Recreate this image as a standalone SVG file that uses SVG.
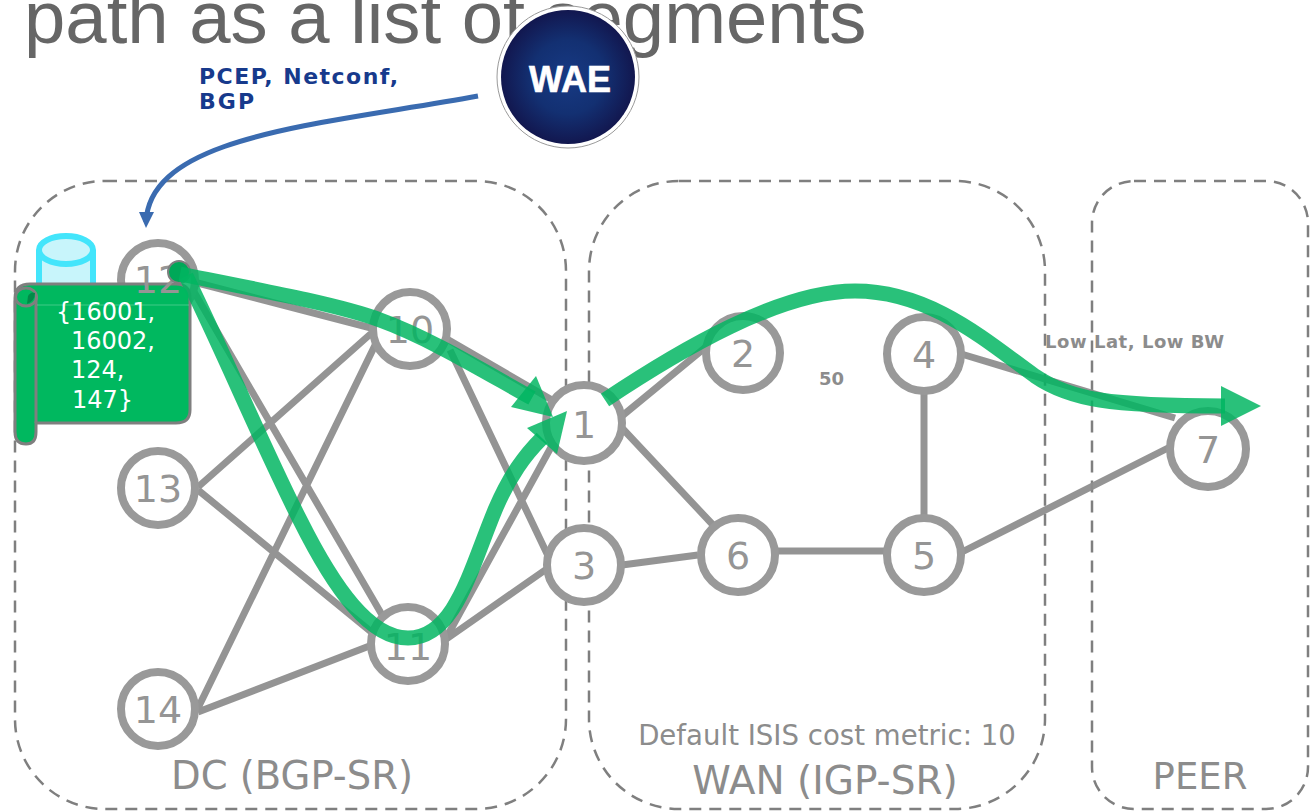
<svg xmlns="http://www.w3.org/2000/svg" width="1314" height="812" viewBox="0 0 1314 812">
<style>
.t{font-family:"DejaVu Sans",Verdana,sans-serif}
.region{fill:none;stroke:#7f7f7f;stroke-width:2.5;stroke-dasharray:12 8}
.node{fill:#fff;stroke:#999;stroke-width:8}
.nl{font-family:"DejaVu Sans",sans-serif;font-size:38px;fill:#959595;text-anchor:middle}
.rl{font-family:"DejaVu Sans",sans-serif;fill:#8c8c8c;text-anchor:middle}
.e{stroke:#8e8e8e;stroke-width:7;fill:none;opacity:.95}
.g{fill:none;stroke:#00b560;stroke-opacity:.84;stroke-width:15}
.h{fill:#00b560;fill-opacity:.84}
.sm{font-family:"DejaVu Sans",sans-serif;font-size:18px;font-weight:bold;fill:#8c8c8c}
.sc{font-family:"DejaVu Sans",sans-serif;font-size:24px;fill:#fff}
</style>
<defs>
<radialGradient id="wg" cx="50%" cy="50%" r="50%"><stop offset="0" stop-color="#173a84"/><stop offset=".55" stop-color="#133072"/><stop offset="1" stop-color="#12174f"/></radialGradient>
</defs>
<text x="24" y="43" font-family="Liberation Sans, Arial, sans-serif" font-size="74.300" fill="#666">path as a list of segments</text>
<g id="regions">
<rect id="region-dc" class="region" x="15" y="181" width="551" height="628" rx="90"/>
<rect id="region-wan" class="region" x="589" y="181" width="456" height="628" rx="90"/>
<rect id="region-peer" class="region" x="1092" y="181" width="216" height="628" rx="42"/>
</g>
<g id="connectors">
<path class="e" d="M190,281L375,329M190,285L385,620M198,487L375,330M198,490L375,635M198,708L380,335M198,712L372,645"/>
<path class="e" d="M440,335L552,400M450,350L550,560M445,640L555,440M445,640L548,568M622,416L712,342M622,428L714,526M622,565L698,555M776,551L886,551M924,390L924,518M958,353L1175,418M960,553L1172,446"/>
</g>
<g id="node-12"><circle class="node" cx="158" cy="280" r="37"/></g>
<g id="node-10"><circle class="node" cx="410" cy="329" r="37"/><text class="nl" x="410" y="343">10</text></g>
<g id="node-1"><circle class="node" cx="584" cy="423" r="38"/><text class="nl" x="584" y="438">1</text></g>
<g id="node-2"><circle class="node" cx="743" cy="353" r="37"/><text class="nl" x="743" y="367">2</text></g>
<g id="node-4"><circle class="node" cx="924" cy="354" r="37"/><text class="nl" x="924" y="368">4</text></g>
<g id="node-13"><circle class="node" cx="158" cy="488" r="37"/><text class="nl" x="158" y="502">13</text></g>
<g id="node-11"><circle class="node" cx="408" cy="644" r="37"/><text class="nl" x="408" y="660">11</text></g>
<g id="node-14"><circle class="node" cx="158" cy="709" r="37"/><text class="nl" x="158" y="723">14</text></g>
<g id="node-3"><circle class="node" cx="584" cy="565" r="37"/><text class="nl" x="584" y="579">3</text></g>
<g id="node-6"><circle class="node" cx="738" cy="555" r="37"/><text class="nl" x="738" y="569">6</text></g>
<g id="node-5"><circle class="node" cx="924" cy="555" r="37"/><text class="nl" x="924" y="569">5</text></g>
<g id="node-7"><circle class="node" cx="1208" cy="449" r="38"/><text class="nl" x="1208" y="463">7</text></g>
<g id="database"><path d="M39,250V300H93V250" fill="#c8f5fb" stroke="#43e5fb" stroke-width="6"/><ellipse cx="66" cy="250" rx="27" ry="14" fill="#c8f5fb" stroke="#43e5fb" stroke-width="6"/></g>
<g id="scroll">
<path d="M30,284H176Q190,284 190,298V410Q190,423 176,423H36V432Q36,444 26,444Q15,444 15,432V298Q15,284 30,284Z" fill="#00b85f" stroke="#7f7f7f" stroke-width="3"/>
<path d="M36,423V297" fill="none" stroke="#7f7f7f" stroke-width="3"/>
<ellipse cx="26" cy="297" rx="10.500" ry="9" fill="#00b85f" stroke="#7f7f7f" stroke-width="3"/>
<path d="M27,304Q35,301 35,293Q31,291 28,296Z" fill="#008a48"/>
<path d="M37,305H189" stroke="#fff" stroke-opacity=".25"/>
<text class="sc" x="56" y="320">{16001,</text>
<text class="sc" x="71" y="349">16002,</text>
<text class="sc" x="71" y="378">124,</text>
<text class="sc" x="72" y="408">147}</text>
</g>
<text class="nl" x="158" y="293">12</text>
<g id="paths">
<circle cx="179" cy="272" r="11" fill="#00a858" stroke="#7f7f7f" stroke-width="2"/>
<path class="g" d="M180,274C260,290 340,305 380,320C430,338 490,375 532,398"/>
<path class="h" d="M511,407L536,376L553,417Z"/>
<path class="g" d="M186,276C225,355 262,445 300,520C335,590 370,638 408,638C455,638 470,570 495,510C510,475 525,455 542,438"/>
<path class="h" d="M527,428L567,411L557,454Z"/>
<path class="g" d="M605,400C680,350 780,291 855,291C930,291 985,340 1035,376C1070,400 1110,406 1225,406"/>
<path class="h" d="M1221,386L1261,406L1221,426Z"/>
</g>
<g id="wae">
<circle cx="568" cy="77" r="71" fill="#fff" stroke="#9a9a9a" stroke-width="1"/>
<circle cx="568" cy="77" r="67" fill="url(#wg)"/>
<text x="570" y="92" font-family="Liberation Sans, Arial, sans-serif" font-weight="bold" font-size="36" fill="#fff" stroke="#fff" stroke-width=".6" text-anchor="middle">WAE</text>
</g>
<path id="wae-link" d="M478,96C320,125 150,135 146,222" fill="none" stroke="#3a6bb0" stroke-width="5"/>
<path id="wae-link-head" d="M139,212H154L146,228Z" fill="#3a6bb0"/>
<text class="t" x="199" y="84" font-size="22" font-weight="bold" fill="#173a8c" textLength="199">PCEP, Netconf,</text>
<text class="t" x="199" y="109" font-size="22" font-weight="bold" fill="#173a8c" textLength="55">BGP</text>
<text class="sm" x="819" y="385">50</text>
<text class="sm" x="1045" y="348" textLength="179">Low Lat, Low BW</text>
<text class="t" x="827" y="745" font-size="27.600" fill="#8c8c8c" text-anchor="middle">Default ISIS cost metric: 10</text>
<text class="rl" x="292" y="789" font-size="38.500">DC (BGP-SR)</text>
<text class="rl" x="825" y="794" font-size="39">WAN (IGP-SR)</text>
<text class="rl" x="1200" y="789" font-size="37">PEER</text>
</svg>
